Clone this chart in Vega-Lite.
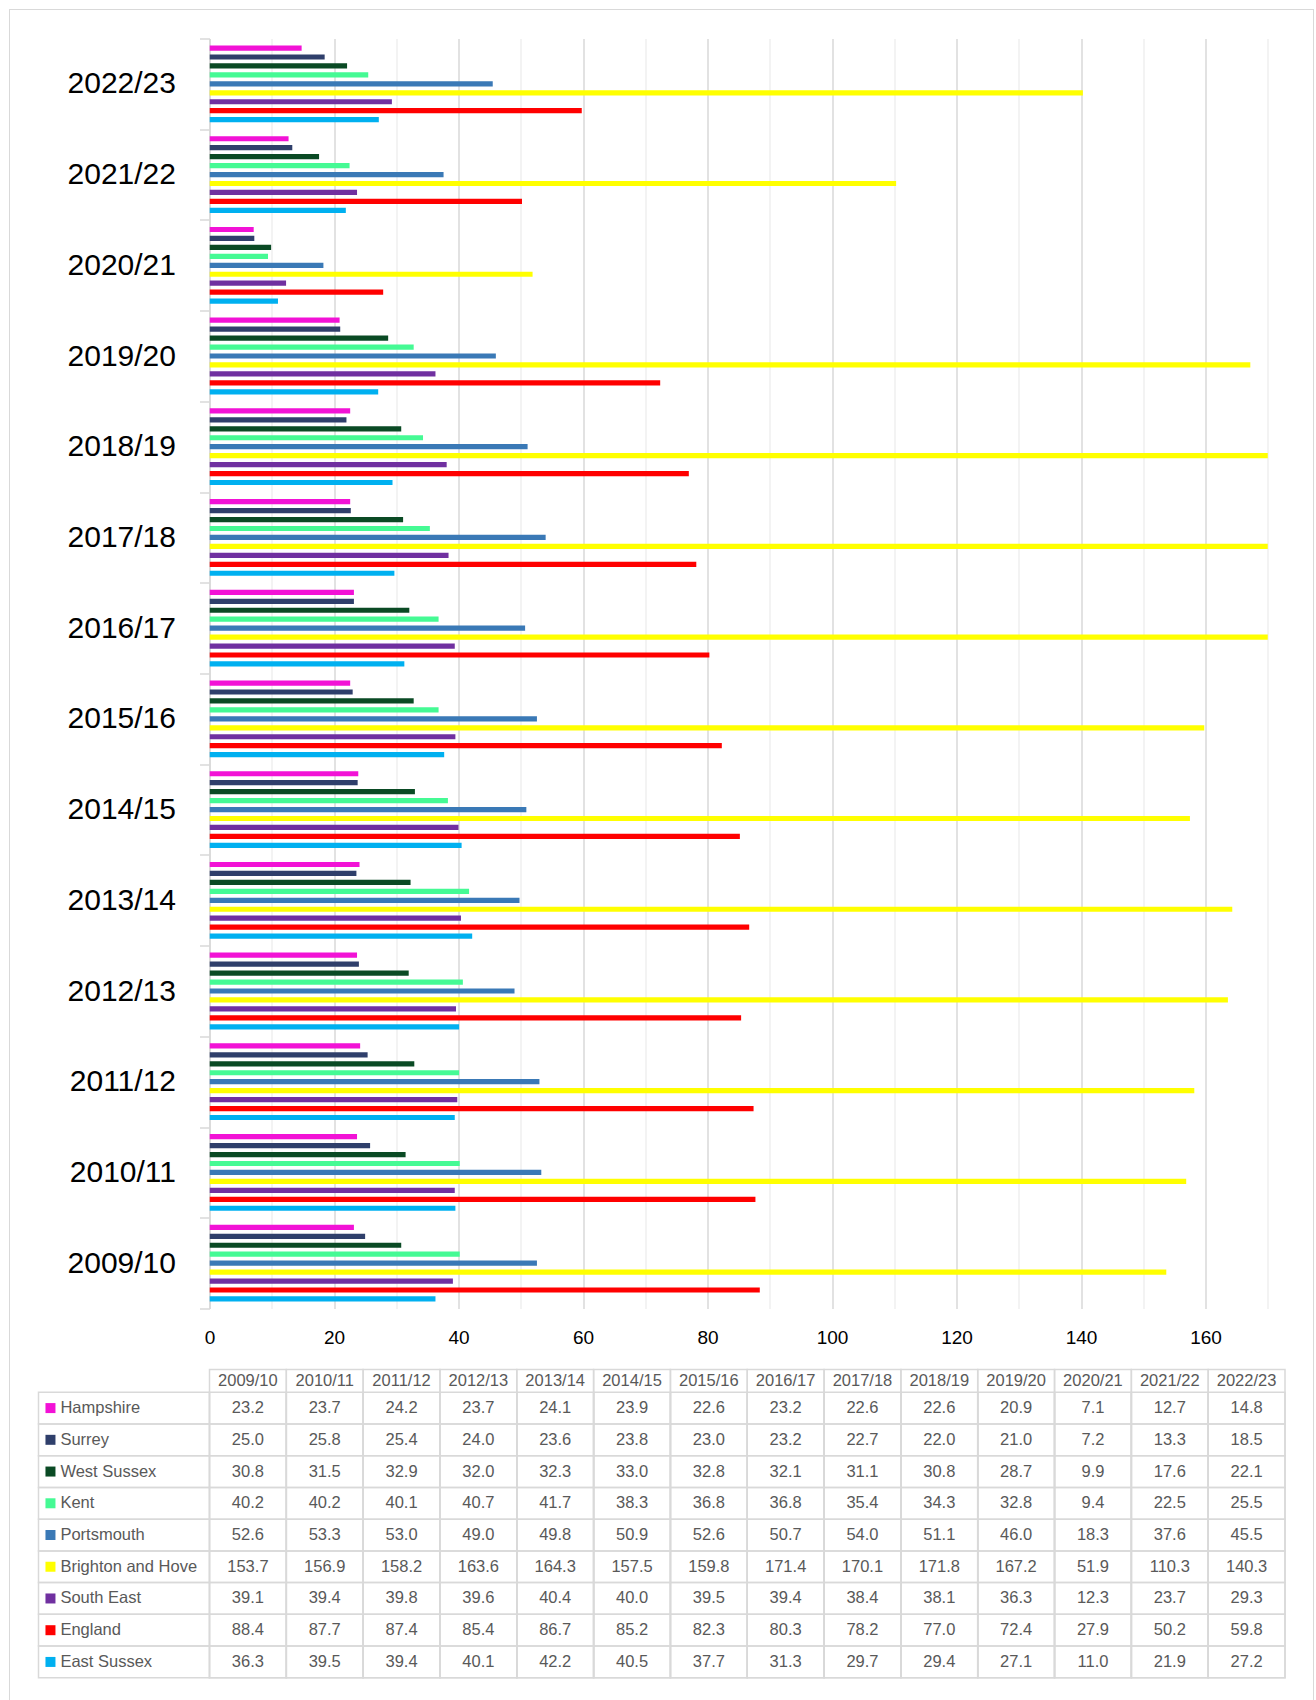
{
  "$schema": "https://vega.github.io/schema/vega-lite/v6.json",
  "padding": {"left": 8.5, "top": 8.5, "right": 0, "bottom": 0},
  "background": "white",
  "config": {"view": {"stroke": null}, "font": "Liberation Sans"},
  "datasets": {
    "d": [
      {"yr":"2009/10","area":"Hampshire","v":23.2},{"yr":"2010/11","area":"Hampshire","v":23.7},{"yr":"2011/12","area":"Hampshire","v":24.2},{"yr":"2012/13","area":"Hampshire","v":23.7},{"yr":"2013/14","area":"Hampshire","v":24.1},{"yr":"2014/15","area":"Hampshire","v":23.9},{"yr":"2015/16","area":"Hampshire","v":22.6},{"yr":"2016/17","area":"Hampshire","v":23.2},{"yr":"2017/18","area":"Hampshire","v":22.6},{"yr":"2018/19","area":"Hampshire","v":22.6},{"yr":"2019/20","area":"Hampshire","v":20.9},{"yr":"2020/21","area":"Hampshire","v":7.1},{"yr":"2021/22","area":"Hampshire","v":12.7},{"yr":"2022/23","area":"Hampshire","v":14.8},
      {"yr":"2009/10","area":"Surrey","v":25.0},{"yr":"2010/11","area":"Surrey","v":25.8},{"yr":"2011/12","area":"Surrey","v":25.4},{"yr":"2012/13","area":"Surrey","v":24.0},{"yr":"2013/14","area":"Surrey","v":23.6},{"yr":"2014/15","area":"Surrey","v":23.8},{"yr":"2015/16","area":"Surrey","v":23.0},{"yr":"2016/17","area":"Surrey","v":23.2},{"yr":"2017/18","area":"Surrey","v":22.7},{"yr":"2018/19","area":"Surrey","v":22.0},{"yr":"2019/20","area":"Surrey","v":21.0},{"yr":"2020/21","area":"Surrey","v":7.2},{"yr":"2021/22","area":"Surrey","v":13.3},{"yr":"2022/23","area":"Surrey","v":18.5},
      {"yr":"2009/10","area":"West Sussex","v":30.8},{"yr":"2010/11","area":"West Sussex","v":31.5},{"yr":"2011/12","area":"West Sussex","v":32.9},{"yr":"2012/13","area":"West Sussex","v":32.0},{"yr":"2013/14","area":"West Sussex","v":32.3},{"yr":"2014/15","area":"West Sussex","v":33.0},{"yr":"2015/16","area":"West Sussex","v":32.8},{"yr":"2016/17","area":"West Sussex","v":32.1},{"yr":"2017/18","area":"West Sussex","v":31.1},{"yr":"2018/19","area":"West Sussex","v":30.8},{"yr":"2019/20","area":"West Sussex","v":28.7},{"yr":"2020/21","area":"West Sussex","v":9.9},{"yr":"2021/22","area":"West Sussex","v":17.6},{"yr":"2022/23","area":"West Sussex","v":22.1},
      {"yr":"2009/10","area":"Kent","v":40.2},{"yr":"2010/11","area":"Kent","v":40.2},{"yr":"2011/12","area":"Kent","v":40.1},{"yr":"2012/13","area":"Kent","v":40.7},{"yr":"2013/14","area":"Kent","v":41.7},{"yr":"2014/15","area":"Kent","v":38.3},{"yr":"2015/16","area":"Kent","v":36.8},{"yr":"2016/17","area":"Kent","v":36.8},{"yr":"2017/18","area":"Kent","v":35.4},{"yr":"2018/19","area":"Kent","v":34.3},{"yr":"2019/20","area":"Kent","v":32.8},{"yr":"2020/21","area":"Kent","v":9.4},{"yr":"2021/22","area":"Kent","v":22.5},{"yr":"2022/23","area":"Kent","v":25.5},
      {"yr":"2009/10","area":"Portsmouth","v":52.6},{"yr":"2010/11","area":"Portsmouth","v":53.3},{"yr":"2011/12","area":"Portsmouth","v":53.0},{"yr":"2012/13","area":"Portsmouth","v":49.0},{"yr":"2013/14","area":"Portsmouth","v":49.8},{"yr":"2014/15","area":"Portsmouth","v":50.9},{"yr":"2015/16","area":"Portsmouth","v":52.6},{"yr":"2016/17","area":"Portsmouth","v":50.7},{"yr":"2017/18","area":"Portsmouth","v":54.0},{"yr":"2018/19","area":"Portsmouth","v":51.1},{"yr":"2019/20","area":"Portsmouth","v":46.0},{"yr":"2020/21","area":"Portsmouth","v":18.3},{"yr":"2021/22","area":"Portsmouth","v":37.6},{"yr":"2022/23","area":"Portsmouth","v":45.5},
      {"yr":"2009/10","area":"Brighton and Hove","v":153.7},{"yr":"2010/11","area":"Brighton and Hove","v":156.9},{"yr":"2011/12","area":"Brighton and Hove","v":158.2},{"yr":"2012/13","area":"Brighton and Hove","v":163.6},{"yr":"2013/14","area":"Brighton and Hove","v":164.3},{"yr":"2014/15","area":"Brighton and Hove","v":157.5},{"yr":"2015/16","area":"Brighton and Hove","v":159.8},{"yr":"2016/17","area":"Brighton and Hove","v":171.4},{"yr":"2017/18","area":"Brighton and Hove","v":170.1},{"yr":"2018/19","area":"Brighton and Hove","v":171.8},{"yr":"2019/20","area":"Brighton and Hove","v":167.2},{"yr":"2020/21","area":"Brighton and Hove","v":51.9},{"yr":"2021/22","area":"Brighton and Hove","v":110.3},{"yr":"2022/23","area":"Brighton and Hove","v":140.3},
      {"yr":"2009/10","area":"South East","v":39.1},{"yr":"2010/11","area":"South East","v":39.4},{"yr":"2011/12","area":"South East","v":39.8},{"yr":"2012/13","area":"South East","v":39.6},{"yr":"2013/14","area":"South East","v":40.4},{"yr":"2014/15","area":"South East","v":40.0},{"yr":"2015/16","area":"South East","v":39.5},{"yr":"2016/17","area":"South East","v":39.4},{"yr":"2017/18","area":"South East","v":38.4},{"yr":"2018/19","area":"South East","v":38.1},{"yr":"2019/20","area":"South East","v":36.3},{"yr":"2020/21","area":"South East","v":12.3},{"yr":"2021/22","area":"South East","v":23.7},{"yr":"2022/23","area":"South East","v":29.3},
      {"yr":"2009/10","area":"England","v":88.4},{"yr":"2010/11","area":"England","v":87.7},{"yr":"2011/12","area":"England","v":87.4},{"yr":"2012/13","area":"England","v":85.4},{"yr":"2013/14","area":"England","v":86.7},{"yr":"2014/15","area":"England","v":85.2},{"yr":"2015/16","area":"England","v":82.3},{"yr":"2016/17","area":"England","v":80.3},{"yr":"2017/18","area":"England","v":78.2},{"yr":"2018/19","area":"England","v":77.0},{"yr":"2019/20","area":"England","v":72.4},{"yr":"2020/21","area":"England","v":27.9},{"yr":"2021/22","area":"England","v":50.2},{"yr":"2022/23","area":"England","v":59.8},
      {"yr":"2009/10","area":"East Sussex","v":36.3},{"yr":"2010/11","area":"East Sussex","v":39.5},{"yr":"2011/12","area":"East Sussex","v":39.4},{"yr":"2012/13","area":"East Sussex","v":40.1},{"yr":"2013/14","area":"East Sussex","v":42.2},{"yr":"2014/15","area":"East Sussex","v":40.5},{"yr":"2015/16","area":"East Sussex","v":37.7},{"yr":"2016/17","area":"East Sussex","v":31.3},{"yr":"2017/18","area":"East Sussex","v":29.7},{"yr":"2018/19","area":"East Sussex","v":29.4},{"yr":"2019/20","area":"East Sussex","v":27.1},{"yr":"2020/21","area":"East Sussex","v":11.0},{"yr":"2021/22","area":"East Sussex","v":21.9},{"yr":"2022/23","area":"East Sussex","v":27.2}
    ]
  },
  "data": {"name": "d"},
  "columns": 2,
  "spacing": {"row": 61, "column": 0},
  "bounds": "flush",
  "concat": [
    {
      "width": 171, "height": 1270,
      "data": {"values": []},
      "mark": "point"
    },
    {
      "width": 1058.25, "height": 1270,
      "layer": [
        {
          "mark": {"type": "bar", "clip": true},
          "encoding": {
            "y": {"field": "yr", "type": "nominal",
              "sort": ["2022/23","2021/22","2020/21","2019/20","2018/19","2017/18","2016/17","2015/16","2014/15","2013/14","2012/13","2011/12","2010/11","2009/10"],
              "scale": {"paddingInner": 0, "paddingOuter": 0},
              "axis": {"title": null, "labelFontSize": 30, "labelColor": "#000000", "tickBand": "extent", "tickSize": 10, "tickColor": "#d9d9d9", "tickWidth": 1.5, "domainColor": "#d9d9d9", "domainWidth": 1.5, "labelPadding": 24, "grid": false}},
            "yOffset": {"field": "area", "type": "nominal",
              "sort": ["Hampshire","Surrey","West Sussex","Kent","Portsmouth","Brighton and Hove","South East","England","East Sussex"],
              "scale": {"paddingInner": 0.419, "paddingOuter": 0.777}},
            "x": {"field": "v", "type": "quantitative",
              "scale": {"domain": [0, 170], "nice": false},
              "axis": {"title": null, "values": [0,10,20,30,40,50,60,70,80,90,100,110,120,130,140,150,160,170],
                "labelExpr": "datum.value % 20 === 0 ? datum.label : ''",
                "labelFlush": false,
                "grid": true, "gridWidth": 1.5,
                "gridColor": {"condition": {"test": "datum.value % 20 === 0", "value": "#d9d9d9"}, "value": "#efefef"},
                "domain": false, "ticks": false, "labelFontSize": 19, "labelColor": "#000000", "labelPadding": 20}},
            "color": {"field": "area", "type": "nominal",
              "scale": {"domain": ["Hampshire","Surrey","West Sussex","Kent","Portsmouth","Brighton and Hove","South East","England","East Sussex"],
                "range": ["#f212d6","#2f3f6b","#0a4a24","#45fa94","#3a79b6","#ffff00","#7030a0","#ff0000","#00b0f0"]},
              "legend": null}
          }
        },
        {
          "mark": {"type": "rule", "color": "#d9d9d9", "strokeWidth": 1},
          "encoding": {
            "x": {"datum": -32.129, "type": "quantitative"},
            "y": {"datum": -0.022835, "type": "quantitative", "scale": {"domain": [0, 1], "reverse": true, "nice": false, "zero": false}, "axis": null},
            "y2": {"datum": 1.30827}
          }
        },
        {
          "mark": {"type": "rule", "color": "#d9d9d9", "strokeWidth": 1},
          "encoding": {
            "x": {"datum": -32.129, "type": "quantitative"},
            "x2": {"datum": 177.35},
            "y": {"datum": -0.022835, "type": "quantitative", "scale": {"domain": [0, 1], "reverse": true, "nice": false, "zero": false}, "axis": null}
          }
        },
        {
          "mark": {"type": "rule", "color": "#d9d9d9", "strokeWidth": 1},
          "encoding": {
            "x": {"datum": 177.35, "type": "quantitative"},
            "y": {"datum": -0.022835, "type": "quantitative", "scale": {"domain": [0, 1], "reverse": true, "nice": false, "zero": false}, "axis": null},
            "y2": {"datum": 1.30827}
          }
        }
      ],
      "resolve": {"scale": {"y": "independent"}, "axis": {"y": "independent"}}
    },
    {
      "width": 171, "height": 308.3,
      "transform": [{"filter": "datum.yr === '2009/10'"}],
      "layer": [
        {
          "mark": {"type": "rect", "fill": "transparent", "stroke": "#d9d9d9", "strokeWidth": 1.5},
          "encoding": {
            "y": {"field": "area", "type": "nominal",
              "sort": ["Hampshire","Surrey","West Sussex","Kent","Portsmouth","Brighton and Hove","South East","England","East Sussex"],
              "scale": {"paddingInner": 0, "paddingOuter": 0.358, "align": 1}, "axis": null}
          }
        },
        {
          "mark": {"type": "square", "size": 100, "opacity": 1},
          "encoding": {
            "x": {"datum": 0.07, "type": "quantitative", "scale": {"domain": [0, 1], "nice": false}, "axis": null},
            "y": {"field": "area", "type": "nominal",
              "sort": ["Hampshire","Surrey","West Sussex","Kent","Portsmouth","Brighton and Hove","South East","England","East Sussex"],
              "scale": {"paddingInner": 0, "paddingOuter": 0.358, "align": 1}, "axis": null},
            "color": {"field": "area", "type": "nominal",
              "scale": {"domain": ["Hampshire","Surrey","West Sussex","Kent","Portsmouth","Brighton and Hove","South East","England","East Sussex"],
                "range": ["#f212d6","#2f3f6b","#0a4a24","#45fa94","#3a79b6","#ffff00","#7030a0","#ff0000","#00b0f0"]},
              "legend": null}
          }
        },
        {
          "mark": {"type": "text", "align": "left", "baseline": "middle", "fontSize": 16.5, "color": "#595959"},
          "encoding": {
            "x": {"datum": 0.128, "type": "quantitative", "scale": {"domain": [0, 1], "nice": false}, "axis": null},
            "y": {"field": "area", "type": "nominal",
              "sort": ["Hampshire","Surrey","West Sussex","Kent","Portsmouth","Brighton and Hove","South East","England","East Sussex"],
              "scale": {"paddingInner": 0, "paddingOuter": 0.358, "align": 1}, "axis": null},
            "text": {"field": "area"}
          }
        }
      ]
    },
    {
      "width": 1075.5, "height": 308.3,
      "layer": [
        {
          "mark": {"type": "rect", "fill": "transparent", "stroke": "#d9d9d9", "strokeWidth": 1.5},
          "encoding": {
            "x": {"field": "yr", "type": "nominal", "sort": "ascending",
              "scale": {"paddingInner": 0, "paddingOuter": 0},
              "axis": {"orient": "top", "title": null, "domain": false, "ticks": false, "tickSize": 0, "grid": false,
                "labelAngle": 0, "labelBaseline": "middle", "labelPadding": -11.35, "labelFontSize": 16.5, "labelColor": "#595959"}},
            "y": {"field": "area", "type": "nominal",
              "sort": ["Hampshire","Surrey","West Sussex","Kent","Portsmouth","Brighton and Hove","South East","England","East Sussex"],
              "scale": {"paddingInner": 0, "paddingOuter": 0.358, "align": 1}, "axis": null}
          }
        },
        {
          "transform": [{"filter": "datum.area === 'Hampshire'"}],
          "mark": {"type": "rect", "fill": "transparent", "stroke": "#d9d9d9", "strokeWidth": 1.5},
          "encoding": {
            "x": {"field": "yr", "type": "nominal", "sort": "ascending"}
          }
        },
        {
          "mark": {"type": "text", "align": "center", "baseline": "middle", "fontSize": 16.5, "color": "#595959"},
          "encoding": {
            "x": {"field": "yr", "type": "nominal", "sort": "ascending"},
            "y": {"field": "area", "type": "nominal",
              "sort": ["Hampshire","Surrey","West Sussex","Kent","Portsmouth","Brighton and Hove","South East","England","East Sussex"]},
            "text": {"field": "v", "type": "quantitative", "format": ".1f"}
          }
        }
      ]
    }
  ]
}
